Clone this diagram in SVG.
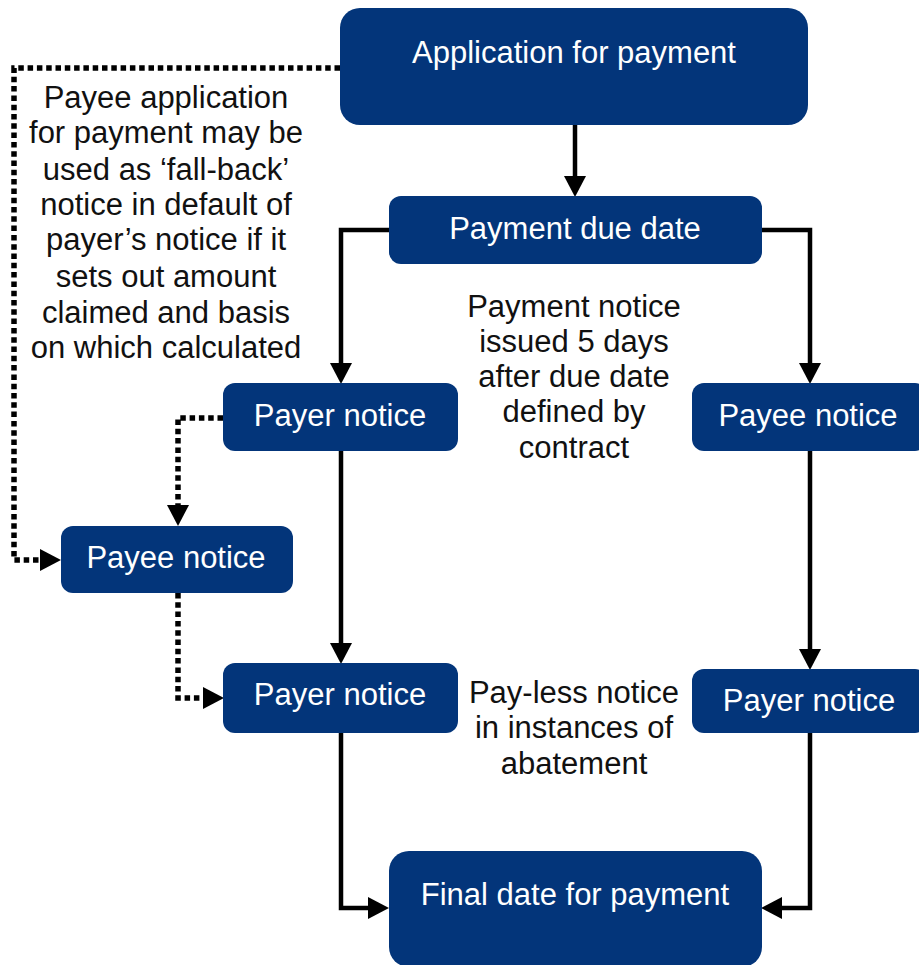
<svg xmlns="http://www.w3.org/2000/svg" width="919" height="965" viewBox="0 0 919 965">
<defs>
<style>
.node rect{fill:#03357a;}
.node text{fill:#ffffff;font-family:"Liberation Sans",Arial,sans-serif;font-size:31px;text-anchor:middle;}
.note{fill:#111111;font-family:"Liberation Sans",Arial,sans-serif;font-size:31px;text-anchor:middle;}
.solid{fill:none;stroke:#000;stroke-width:4.5;}
.dot{fill:none;stroke:#000;stroke-width:5.5;stroke-dasharray:5.5 3.8;}
</style>
<marker id="ah" markerUnits="userSpaceOnUse" markerWidth="21" markerHeight="22" refX="10" refY="11" orient="auto" viewBox="0 0 21 22">
<path d="M0,0 L21,11 L0,22 Z" fill="#000"/>
</marker>
</defs>
<g id="connectors">
<path class="solid" d="M575,125 V186" marker-end="url(#ah)"/>
<path class="solid" d="M389,230 H341 V373" marker-end="url(#ah)"/>
<path class="solid" d="M762,230 H810 V373" marker-end="url(#ah)"/>
<path class="solid" d="M341,451 V653" marker-end="url(#ah)"/>
<path class="solid" d="M810,451 V659" marker-end="url(#ah)"/>
<path class="solid" d="M341,733 V908 H378" marker-end="url(#ah)"/>
<path class="solid" d="M810,733 V908 H772" marker-end="url(#ah)"/>
<path class="dot" d="M340,68 H14 V560 H50" marker-end="url(#ah)"/>
<path class="dot" d="M223,418 H178 V515" marker-end="url(#ah)"/>
<path class="dot" d="M178,593 V698 H213" marker-end="url(#ah)"/>
</g>
<g id="app" class="node"><rect x="340" y="8" width="468" height="117" rx="20"/><text x="574" y="63">Application for payment</text></g>
<g id="due" class="node"><rect x="389" y="196" width="373" height="68" rx="12"/><text x="575" y="239">Payment due date</text></g>
<g id="payer1" class="node"><rect x="223" y="383" width="235" height="68" rx="12"/><text x="340" y="426">Payer notice</text></g>
<g id="payee1" class="node"><rect x="692" y="383" width="235" height="68" rx="12"/><text x="808" y="426">Payee notice</text></g>
<g id="payee2" class="node"><rect x="61" y="526" width="232" height="67" rx="12"/><text x="176" y="568">Payee notice</text></g>
<g id="payer2" class="node"><rect x="223" y="663" width="235" height="70" rx="12"/><text x="340" y="705">Payer notice</text></g>
<g id="payer3" class="node"><rect x="692" y="669" width="235" height="64" rx="12"/><text x="809" y="711">Payer notice</text></g>
<g id="final" class="node"><rect x="389" y="851" width="373" height="116" rx="20"/><text x="575" y="905">Final date for payment</text></g>
<g id="notes">
<text class="note" x="166" y="108">Payee application</text>
<text class="note" x="166" y="143">for payment may be</text>
<text class="note" x="166" y="180">used as ‘fall-back’</text>
<text class="note" x="166" y="215">notice in default of</text>
<text class="note" x="166" y="250">payer’s notice if it</text>
<text class="note" x="166" y="287">sets out amount</text>
<text class="note" x="166" y="323">claimed and basis</text>
<text class="note" x="166" y="358">on which calculated</text>
<text class="note" x="574" y="317">Payment notice</text>
<text class="note" x="574" y="352">issued 5 days</text>
<text class="note" x="574" y="387">after due date</text>
<text class="note" x="574" y="422">defined by</text>
<text class="note" x="574" y="458">contract</text>
<text class="note" x="574" y="703">Pay-less notice</text>
<text class="note" x="574" y="738">in instances of</text>
<text class="note" x="574" y="774">abatement</text>
</g>
</svg>
